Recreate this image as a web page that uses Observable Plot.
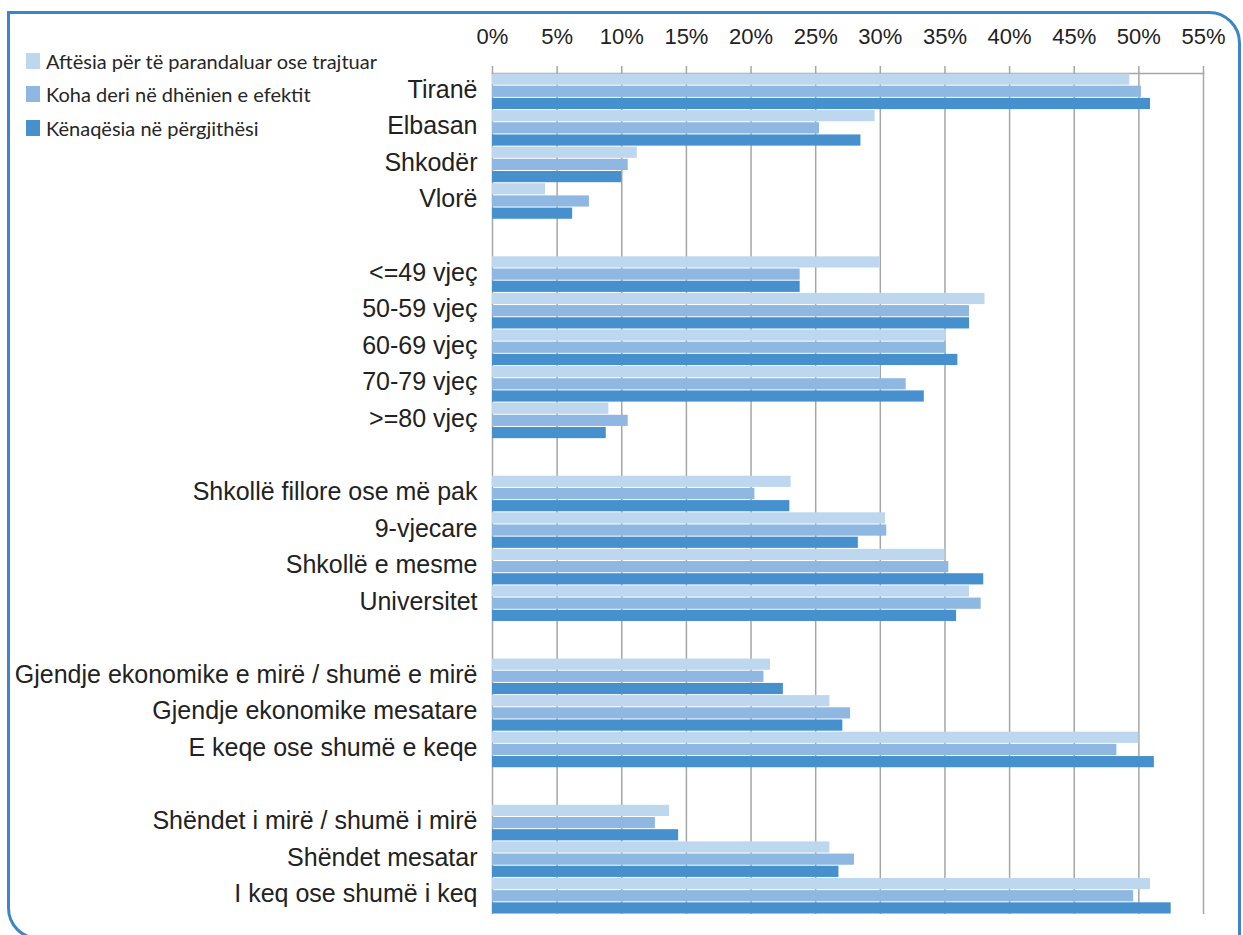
<!DOCTYPE html>
<html>
<head>
<meta charset="utf-8">
<script src="https://cdn.jsdelivr.net/npm/d3@7"></script>
<script src="https://cdn.jsdelivr.net/npm/@observablehq/plot@0.6"></script>
<style>
  html, body { margin: 0; padding: 0; background: #fff; }
  #wrap { position: relative; width: 1243px; height: 935px; overflow: hidden; }
  #border { position: absolute; left: 7px; top: 11px; width: 1234px; height: 929px; box-sizing: border-box;
            border: 3px solid #3A86C8; border-radius: 0 32px 0 32px; pointer-events: none; }
  #chart { position: absolute; left: 0; top: 0; }
  #legend { position: absolute; left: 26px; top: 0; font-family: Lato, "Open Sans", sans-serif; font-size: 20px; color: #262626; }
  .item { position: absolute; left: 0; white-space: nowrap; display: flex; align-items: center; height: 20px; }
  .sw { width: 14px; height: 16px; margin-right: 6px; flex: none; }
</style>
</head>
<body>
<div id="wrap">
  <div id="chart"></div>
  <div id="legend"></div>
  <div id="border"></div>
</div>
<script>
// Categories (null = empty spacer row between groups)
const categories = [
  "Tiranë", "Elbasan", "Shkodër", "Vlorë", null,
  "<=49 vjeç", "50-59 vjeç", "60-69 vjeç", "70-79 vjeç", ">=80 vjeç", null,
  "Shkollë fillore ose më pak", "9-vjecare", "Shkollë e mesme", "Universitet", null,
  "Gjendje ekonomike e mirë / shumë e mirë", "Gjendje ekonomike mesatare", "E keqe ose shumë e keqe", null,
  "Shëndet i mirë / shumë i mirë", "Shëndet mesatar", "I keq ose shumë i keq"
];
const series = [
  "Aftësia për të parandaluar ose trajtuar",
  "Koha deri në dhënien e efektit",
  "Kënaqësia në përgjithësi"
];
const colors = ["#BDD7EE", "#8EB8E2", "#4690CD"];
const aftesia    = [49.3, 29.6, 11.2, 4.1, null, 30.0, 38.1, 35.1, 30.0, 9.0, null, 23.1, 30.4, 35.0, 36.9, null, 21.5, 26.1, 50.0, null, 13.7, 26.1, 50.9];
const koha       = [50.2, 25.3, 10.5, 7.5, null, 23.8, 36.9, 35.1, 32.0, 10.5, null, 20.3, 30.5, 35.3, 37.8, null, 21.0, 27.7, 48.3, null, 12.6, 28.0, 49.6];
const kenaqesia  = [50.9, 28.5, 10.0, 6.2, null, 23.8, 36.9, 36.0, 33.4, 8.8, null, 23.0, 28.3, 38.0, 35.9, null, 22.5, 27.1, 51.2, null, 14.4, 26.8, 52.5];
const xTicks = [0, 5, 10, 15, 20, 25, 30, 35, 40, 45, 50, 55];

const valuesBySeries = [aftesia, koha, kenaqesia];
const yDomain = [];
categories.forEach((c, i) => series.forEach((s, j) => yDomain.push(`${i}|${j}`)));
const rows = [];
categories.forEach((c, i) => {
  if (c === null) return;
  series.forEach((s, j) => rows.push({key: `${i}|${j}`, series: s, value: valuesBySeries[j][i]}));
});
const labels = categories.map((c, i) => ({key: `${i}|1`, label: c})).filter(d => d.label !== null);

const plot = Plot.plot({
  width: 1243,
  height: 935,
  marginTop: 73,
  marginBottom: 21,
  marginLeft: 492,
  marginRight: 40,
  style: {fontFamily: "'Liberation Sans', Arial, sans-serif", color: "#222", background: "transparent"},
  x: {domain: [0, 55], axis: null},
  y: {domain: yDomain, axis: null, padding: 0, round: false},
  color: {domain: series, range: colors},
  marks: [
    Plot.ruleX(xTicks, {stroke: "#A6A6A6", strokeWidth: 1.5}),
    Plot.frame({anchor: "top", stroke: "#A6A6A6", strokeWidth: 1.5}),
    Plot.barX(rows, {x: "value", y: "key", fill: "series", insetTop: 0.5, insetBottom: 0.5}),
    Plot.axisX(xTicks, {anchor: "top", label: null, tickSize: 8, tickPadding: 22, tickFormat: d => d + "%", fontSize: 22, stroke: "#A6A6A6", strokeWidth: 1.5, fill: "#222"}),
    Plot.text(labels, {x: () => 0, y: "key", text: "label", textAnchor: "end", dx: -15, dy: -2, fontSize: 25, fill: "#222"})
  ]
});
document.getElementById("chart").appendChild(plot);

const legend = document.getElementById("legend");
const legendY = [50.5, 84, 118];
series.forEach((s, j) => {
  const item = document.createElement("div");
  item.className = "item";
  item.style.top = legendY[j] + "px";
  const sw = document.createElement("span");
  sw.className = "sw";
  sw.style.background = colors[j];
  const t = document.createElement("span");
  t.textContent = s;
  item.appendChild(sw);
  item.appendChild(t);
  legend.appendChild(item);
});
</script>
</body>
</html>
